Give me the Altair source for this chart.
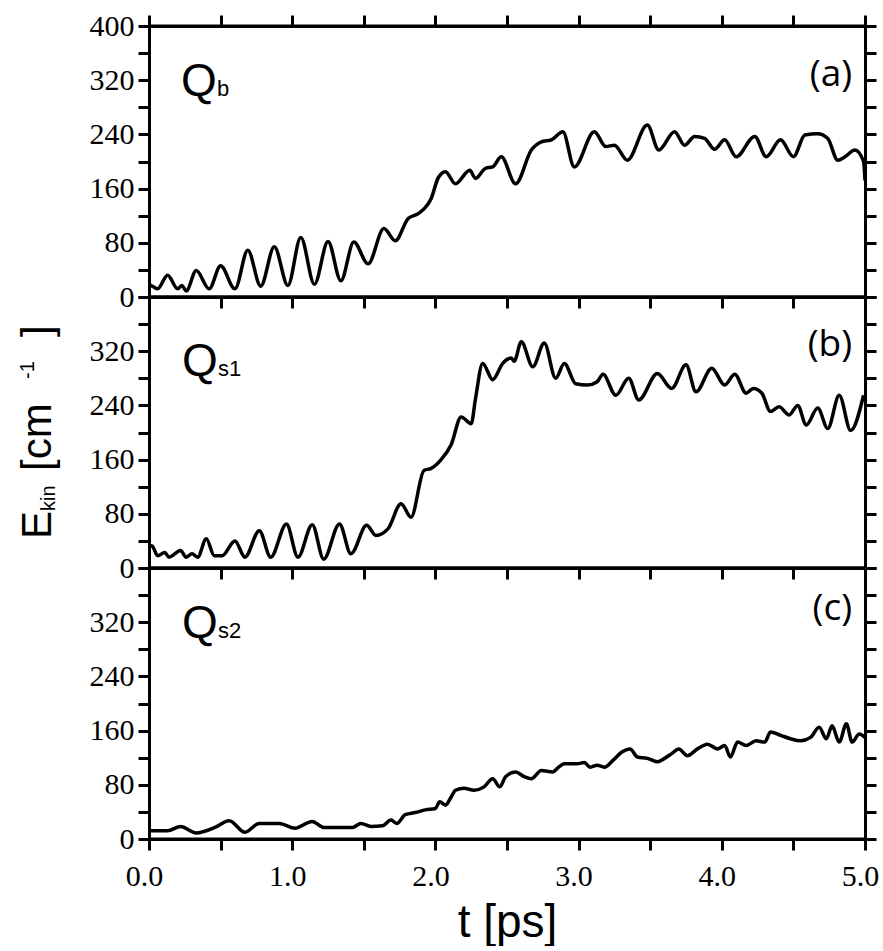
import altair as alt
import pandas as pd

# ---------------- data ----------------
# Panel (a): Q_b
ta = [0.00, 0.03, 0.06, 0.13, 0.20, 0.23, 0.26, 0.33, 0.42, 0.50, 0.60, 0.69, 0.78, 0.875,
      0.97, 1.06, 1.155, 1.25, 1.34, 1.43, 1.53, 1.64, 1.72, 1.81, 1.88, 1.92, 1.97, 2.02,
      2.07, 2.14, 2.24, 2.28, 2.35, 2.40, 2.46, 2.56, 2.67, 2.74, 2.81, 2.89, 2.97, 3.11,
      3.19, 3.25, 3.34, 3.48, 3.56, 3.67, 3.74, 3.81, 3.88, 3.95, 4.02, 4.10, 4.23, 4.31,
      4.41, 4.50, 4.58, 4.67, 4.74, 4.81, 4.86, 4.93, 4.99, 5.00]
va = [19, 15, 12, 32, 12, 17, 9, 39, 12, 46, 12, 69, 16, 74,
      17, 88, 19, 82, 24, 81, 49, 101, 83, 116, 123, 130, 145, 176,
      185, 167, 187, 175, 190, 192, 207, 167, 217, 229, 232, 244, 192, 244,
      222, 224, 202, 254, 217, 244, 224, 237, 234, 218, 232, 207, 237, 207,
      232, 207, 239, 241, 234, 202, 207, 217, 200, 172]

# Panel (b): Q_s1
tb = [0.00, 0.02, 0.06, 0.11, 0.14, 0.22, 0.26, 0.30, 0.34, 0.40, 0.456, 0.51, 0.60, 0.67,
      0.77, 0.85, 0.96, 1.04, 1.14, 1.22, 1.33, 1.41, 1.52, 1.585, 1.67, 1.76, 1.83, 1.92,
      1.97, 2.04, 2.11, 2.18, 2.25, 2.28, 2.33, 2.40, 2.47, 2.53, 2.55, 2.60, 2.68, 2.76,
      2.84, 2.90, 2.98, 3.06, 3.13, 3.17, 3.26, 3.35, 3.42, 3.55, 3.65, 3.75, 3.82, 3.93,
      4.02, 4.09, 4.17, 4.22, 4.28, 4.34, 4.40, 4.47, 4.53, 4.59, 4.67, 4.74, 4.82, 4.90,
      4.99]
vb = [31, 33, 18, 23, 16, 26, 16, 21, 16, 43, 18, 18, 40, 16,
      55, 16, 65, 16, 64, 13, 65, 21, 63, 48, 58, 95, 75, 144,
      147, 160, 182, 223, 213, 250, 302, 278, 302, 310, 305, 334, 297, 332,
      280, 302, 272, 270, 275, 286, 255, 280, 248, 287, 265, 300, 260, 295,
      270, 286, 258, 265, 258, 231, 238, 226, 240, 211, 236, 206, 255, 203,
      255]

# Panel (c): Q_s2
tc = [0.00, 0.13, 0.22, 0.33, 0.46, 0.56, 0.67, 0.77, 0.91, 1.02, 1.14, 1.22, 1.42, 1.48,
      1.55, 1.63, 1.69, 1.73, 1.79, 1.86, 1.93, 2.00, 2.03, 2.07, 2.11, 2.14, 2.20, 2.27,
      2.34, 2.40, 2.45, 2.49, 2.56, 2.62, 2.67, 2.74, 2.82, 2.86, 2.90, 2.99, 3.04, 3.08,
      3.13, 3.18, 3.24, 3.30, 3.36, 3.41, 3.48, 3.55, 3.60, 3.65, 3.70, 3.76, 3.83, 3.90,
      3.97, 4.02, 4.06, 4.11, 4.17, 4.24, 4.30, 4.34, 4.41, 4.48, 4.55, 4.62, 4.68, 4.73,
      4.77, 4.82, 4.87, 4.91, 4.96, 5.00]
vc = [12, 12, 18.5, 9, 17, 27, 10, 23, 23, 16, 26, 17, 17, 23,
      18.5, 19.5, 28, 23, 36, 39, 43, 45, 55, 50, 62, 72, 75, 72,
      77, 89, 77, 92, 99, 92, 89, 101, 99, 106, 111, 111, 113, 106,
      109, 106, 116, 128, 133, 121, 119, 114, 119, 126, 133, 123, 133, 140,
      133, 138, 121, 143, 138, 145, 143, 158, 153, 148, 145, 150, 165, 148,
      167, 143, 170, 143, 155, 150]

x_ticks = [0.0, 0.5, 1.0, 1.5, 2.0, 2.5, 3.0, 3.5, 4.0, 4.5, 5.0]
y_ticks = [0, 40, 80, 120, 160, 200, 240, 280, 320, 360, 400]
frame_levels = [0, 400]

q_main = ["Q", "Q", "Q"]
q_sub = ["b", "s1", "s2"]
q_t = [0.2235, 0.23, 0.23]
q_v = [296, 284, 296]
panel_tags = ["(a)", "(b)", "(c)"]
tag_t = [4.91, 4.91, 4.91]
tag_v = [327, 329, 339]

# ---------------- styling ----------------
W, H = 716, 271
xscale = alt.Scale(domain=[0, 5], nice=False, zero=False)
yscale = alt.Scale(domain=[0, 400], nice=False)
ax_common = dict(domainColor="black", domainWidth=3, tickColor="black", tickWidth=3,
                 tickSize=11, grid=False, labelColor="black")


def panel(t, v, idx, top=False, bottom=False):
    df = pd.DataFrame({"t": t, "v": v})
    if idx == 0:
        ylab = "datum.value % 80 == 0 ? datum.label : ''"
    else:
        ylab = "datum.value % 80 == 0 && datum.value < 400 ? datum.label : ''"
    yaxis_l = alt.Axis(orient="left", values=y_ticks, labelExpr=ylab, title=None,
                       labelFont="Liberation Serif", labelFontSize=30, labelPadding=4,
                       format="d", labelOverlap=False, **ax_common)
    if bottom:
        xaxis_b = alt.Axis(orient="bottom", values=x_ticks, format=".1f",
                           labelExpr="datum.value % 1 == 0 ? datum.label : ''",
                           labelFont="Liberation Serif", labelFontSize=30, labelPadding=11,
                           labelOffset=-5, labelFlush=False, labelOverlap=False,
                           title="t [ps]", titleFont="Liberation Sans", titleFontSize=46,
                           titleFontWeight="normal", titleColor="black", titlePadding=9,
                           **ax_common)
    else:
        xaxis_b = alt.Axis(orient="bottom", values=x_ticks, labels=False, title=None,
                           **ax_common)

    line = alt.Chart(df).mark_line(color="black", strokeWidth=3.5, interpolate="monotone",
                                   strokeJoin="round").encode(
        x=alt.X("t:Q", scale=xscale, axis=xaxis_b),
        y=alt.Y("v:Q", scale=yscale, axis=yaxis_l),
    )

    yaxis_r = alt.Axis(orient="right", values=y_ticks, labels=False, title=None, **ax_common)
    if top:
        xaxis_t = alt.Axis(orient="top", values=x_ticks, labels=False, title=None, **ax_common)
        frame = alt.Chart(df).mark_line(strokeOpacity=0).encode(
            x=alt.X("t:Q", scale=xscale, axis=xaxis_t),
            y=alt.Y("v:Q", scale=yscale, axis=yaxis_r),
        )
    else:
        frame = alt.Chart(df).mark_line(strokeOpacity=0).encode(
            x=alt.X("t:Q", scale=xscale, axis=None),
            y=alt.Y("v:Q", scale=yscale, axis=yaxis_r),
        )

    # horizontal frame edges (bottom and top of the panel)
    edges = alt.Chart(pd.DataFrame({"lvl": frame_levels})).mark_rule(
        color="black", strokeWidth=3).encode(
        y=alt.Y("lvl:Q", scale=yscale, axis=None))

    lab = pd.DataFrame({"t": [q_t[idx]], "v": [q_v[idx]], "m": [q_main[idx]],
                        "s": [q_sub[idx]], "tag": [panel_tags[idx]],
                        "tt": [tag_t[idx]], "tv": [tag_v[idx]]})
    qm = alt.Chart(lab).mark_text(font="Liberation Sans", fontSize=46, align="left",
                                  baseline="alphabetic", color="black").encode(
        x=alt.X("t:Q", scale=xscale, axis=None),
        y=alt.Y("v:Q", scale=yscale, axis=None),
        text="m:N")
    qs = alt.Chart(lab).mark_text(font="Liberation Sans", fontSize=22, align="left",
                                  baseline="alphabetic", color="black", dx=36).encode(
        x=alt.X("t:Q", scale=xscale, axis=None),
        y=alt.Y("v:Q", scale=yscale, axis=None),
        text="s:N")
    tag = alt.Chart(lab).mark_text(font="Open Sans", fontSize=37, align="right",
                                   baseline="middle", color="black").encode(
        x=alt.X("tt:Q", scale=xscale, axis=None),
        y=alt.Y("tv:Q", scale=yscale, axis=None),
        text="tag:N")

    layers = [line, frame, edges, qm, qs, tag]

    if idx == 1:
        one = pd.DataFrame({"k": [0]})
        pieces = [("E", -98, 242, 42), ("kin", -94, 214, 20), ("[cm", -98, 174, 42),
                  ("-1", -115, 82, 20), ("]", -98, 40, 42)]
        for txt, px, py, fs in pieces:
            layers.append(
                alt.Chart(one).mark_text(text=txt, font="Liberation Sans", fontSize=fs,
                                         angle=270, align="left", baseline="alphabetic",
                                         color="black").encode(
                    x=alt.value(px), y=alt.value(py)))

    return alt.layer(*layers).resolve_axis(x="independent", y="independent").properties(
        width=W, height=H)


pa = panel(ta, va, 0, top=True)
pb = panel(tb, vb, 1)
pc = panel(tc, vc, 2, bottom=True)

chart = alt.vconcat(pa, pb, pc, spacing=0, bounds="flush").properties(
    padding={"left": 16, "top": 10, "right": 0, "bottom": 0}
).configure_view(stroke="transparent").configure(background="white")

chart.save("out.html", embed_options={"renderer": "svg", "actions": False})
